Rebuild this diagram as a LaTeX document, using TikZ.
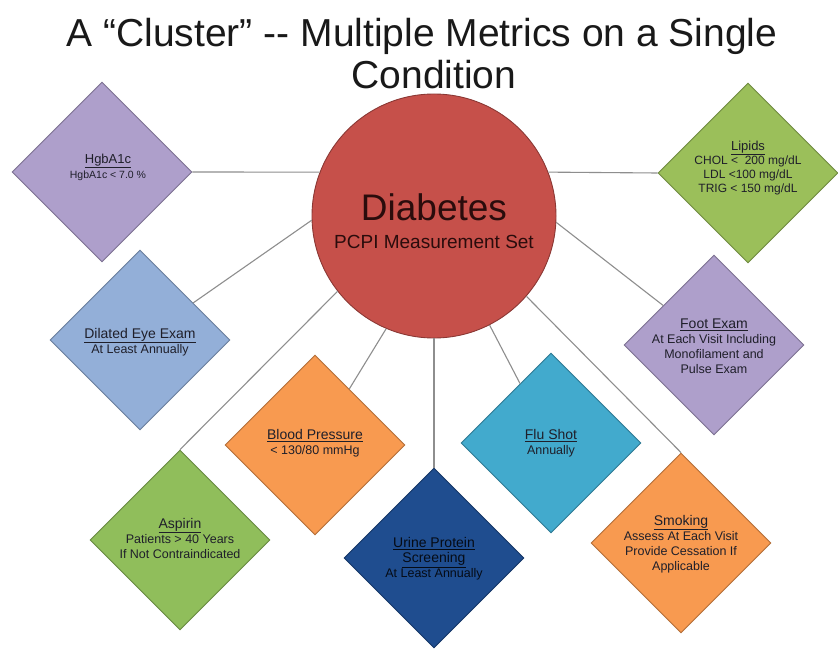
\documentclass[tikz,border=0pt]{standalone}
\usepackage{fontspec}
\setmainfont{Liberation Sans}
\usetikzlibrary{shapes.geometric}
\definecolor{cPurple}{HTML}{AE9FCB}
\definecolor{cLime}{HTML}{9BBF5A}
\definecolor{cSky}{HTML}{93AFD8}
\definecolor{cOrange}{HTML}{F89A50}
\definecolor{cAqua}{HTML}{42AACD}
\definecolor{cGreen}{HTML}{90BE5B}
\definecolor{cNavy}{HTML}{1F4D8F}
\definecolor{cRed}{HTML}{C6504A}
\definecolor{cLine}{HTML}{8E8E8E}
\definecolor{cText}{HTML}{1F1F2A}
\definecolor{cDark}{HTML}{2A0C0C}
\begin{document}
\begin{tikzpicture}[x=1pt,y=-1pt,
  dmd/.style={diamond, minimum width=180pt, minimum height=180pt, inner sep=0pt,
    draw=#1!72!black, fill=#1, line width=0.9pt},
  mtxt/.style={align=center, text=cText, font=\fontsize{12.5}{15}\selectfont, inner sep=0pt},
  link/.style={draw=cLine, line width=1.1pt},
  ttl/.style={anchor=base, text=black!90, font=\fontsize{39}{43}\selectfont, inner sep=0pt},
]
\useasboundingbox (0,0) rectangle (838,650);
\fill[white] (0,0) rectangle (838,650);

% title
\node[ttl] (title1) at (422,47) {A “Cluster” -{}- Multiple Metrics on a Single};
\node[ttl] (title2) at (434,89) {Condition};

% centre
\node[circle, minimum size=244pt, inner sep=0pt, fill=cRed, draw=cRed!70!black, line width=0.9pt] (dia) at (434,216) {};
\node[anchor=base, text=cDark, font=\fontsize{37}{40}\selectfont, inner sep=0pt] (diat) at (434,220) {Diabetes};
\node[anchor=base, text=cDark, font=\fontsize{19}{22}\selectfont, inner sep=0pt] (pcpi) at (434,248) {PCPI Measurement Set};

% diamonds
\node[dmd=cPurple] (hgb) at (102,172) {};
\node[dmd=cLime]   (lip) at (748,173) {};
\node[dmd=cSky]    (eye) at (140,340) {};
\node[dmd=cPurple] (foot) at (714,345) {};
\node[dmd=cOrange] (bp) at (315,445) {};
\node[dmd=cAqua]   (flu) at (551,443) {};
\node[dmd=cGreen]  (asp) at (180,540) {};
\node[dmd=cNavy]   (uri) at (434,558) {};
\node[dmd=cOrange] (smk) at (681,543) {};

% texts
\node[mtxt, font=\fontsize{10.5}{13}\selectfont] (hgbt) at (108,167) {{\fontsize{13}{14}\selectfont\underline{HgbA1c}}\\[2pt]HgbA1c < 7.0 \%};
\node[mtxt, font=\fontsize{12}{14}\selectfont] (lipt) at (748,168) {{\fontsize{13}{15}\selectfont\underline{Lipids}}\\CHOL <~ 200 mg/dL\\LDL <100 mg/dL\\TRIG < 150 mg/dL};
\node[mtxt] (eyet) at (140,342) {{\fontsize{14}{16}\selectfont\underline{Dilated Eye Exam}}\\At Least Annually};
\node[mtxt] (foott) at (714,346) {{\fontsize{14}{16}\selectfont\underline{Foot Exam}}\\At Each Visit Including\\Monofilament and\\Pulse Exam};
\node[mtxt] (bpt) at (315,443) {{\fontsize{14}{16}\selectfont\underline{Blood Pressure}}\\< 130/80 mmHg};
\node[mtxt] (flut) at (551,443) {{\fontsize{14}{16}\selectfont\underline{Flu Shot}}\\Annually};
\node[mtxt] (aspt) at (180,538) {{\fontsize{14}{16}\selectfont\underline{Aspirin}}\\Patients > 40 Years\\If Not Contraindicated};
\node[mtxt, text=black!85!cNavy] (urit) at (434,559) {{\fontsize{14}{16}\selectfont\underline{Urine Protein}}\\{\fontsize{14}{16}\selectfont\underline{Screening}}\\At Least Annually};
\node[mtxt] (smkt) at (681,544) {{\fontsize{14}{16}\selectfont\underline{Smoking}}\\Assess At Each Visit\\Provide Cessation If\\Applicable};

% connectors
\draw[link] (dia.159) -- (hgb.east);
\draw[link] (dia.21) -- (lip.west);
\draw[link] (dia.182) -- (eye);
\draw[link] (dia.357.4) -- (foot);
\draw[link] (dia.247.4) -- (bp);
\draw[link] (dia.297.1) -- (flu);
\draw[link] (dia.218.3) -- (asp.north);
\draw[link] (dia.south) -- (uri.north);
\draw[link] (dia.319) -- (smk.north);
\end{tikzpicture}
\end{document}
